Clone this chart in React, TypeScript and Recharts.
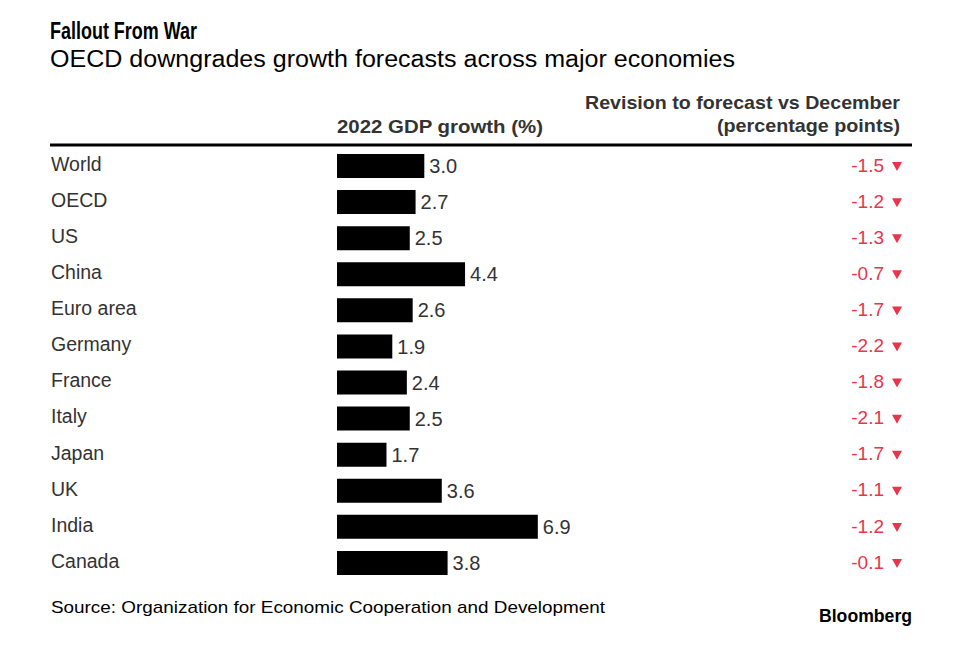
import React from 'react';
import { BarChart, Bar, XAxis, YAxis, LabelList } from 'recharts';

const categories = ['World', 'OECD', 'US', 'China', 'Euro area', 'Germany', 'France', 'Italy', 'Japan', 'UK', 'India', 'Canada'];
const growth2022 = [3.0, 2.7, 2.5, 4.4, 2.6, 1.9, 2.4, 2.5, 1.7, 3.6, 6.9, 3.8];
const revision = [-1.5, -1.2, -1.3, -0.7, -1.7, -2.2, -1.8, -2.1, -1.7, -1.1, -1.2, -0.1];

const FONT = '"Liberation Sans", Arial, Helvetica, sans-serif';
const TEXT = '#333333';
const RED = '#e8354d';

const data = categories.map((name, i) => ({ name, growth: growth2022[i], rev: revision[i] }));

// labels on the left, left-aligned at the page edge of the table
const CategoryTick = (props: any) => {
  const { y, payload } = props;
  return (
    <text x={51} y={y - 2} dy="0.35em" fill={TEXT} fontSize={19.5} fontFamily={FONT} textAnchor="start">
      {payload.value}
    </text>
  );
};

// revision column: red value + down triangle
const RevisionTick = (props: any) => {
  const { x, y, index } = props;
  const v = revision[index];
  return (
    <g>
      <text x={x - 6} y={y - 1} dy="0.35em" fill={RED} fontSize={19} fontFamily={FONT} textAnchor="end">
        {v.toFixed(1)}
      </text>
      <path d={`M${x + 2},${y - 4} L${x + 12},${y - 4} L${x + 7},${y + 5} Z`} fill={RED} />
    </g>
  );
};

const App: React.FC = () => {
  return (
    <div style={{ position: 'absolute', left: 0, top: 0, width: 961, height: 654, background: '#fff' }}>
      <BarChart
        width={961}
        height={654}
        data={data}
        layout="vertical"
        margin={{ top: 148, right: 21, bottom: 73, left: 51 }}
        barSize={24}
        style={{ fontFamily: FONT }}
      >
        <XAxis type="number" domain={[0, 19]} hide />
        <YAxis
          yAxisId="cat"
          type="category"
          dataKey="name"
          width={286}
          axisLine={false}
          tickLine={false}
          tick={<CategoryTick />}
          interval={0}
        />
        <YAxis
          yAxisId="rev"
          type="category"
          dataKey="name"
          orientation="right"
          width={50}
          axisLine={false}
          tickLine={false}
          tickSize={0}
          tickMargin={0}
          tick={<RevisionTick />}
          interval={0}
        />
        <Bar dataKey="growth" yAxisId="cat" fill="#000" isAnimationActive={false}>
          <LabelList
            dataKey="growth"
            position="right"
            offset={5}
            fill={TEXT}
            fontSize={20}
            fontFamily={FONT}
            formatter={(v: any) => Number(v).toFixed(1)}
          />
        </Bar>
      </BarChart>

      <svg width={961} height={654} style={{ position: 'absolute', left: 0, top: 0, pointerEvents: 'none' }}>
        <text x={50} y={39} fontSize={24} fontWeight="bold" fill="#000" fontFamily={FONT} textLength={147} lengthAdjust="spacingAndGlyphs">
          Fallout From War
        </text>
        <text x={50} y={67} fontSize={23} fill="#000" fontFamily={FONT} textLength={685} lengthAdjust="spacingAndGlyphs">
          OECD downgrades growth forecasts across major economies
        </text>
        <text x={337} y={133} fontSize={18} fontWeight="bold" fill={TEXT} fontFamily={FONT} textLength={206} lengthAdjust="spacingAndGlyphs">
          2022 GDP growth (%)
        </text>
        <text x={585} y={109} fontSize={18.5} fontWeight="bold" fill={TEXT} fontFamily={FONT} textLength={315} lengthAdjust="spacingAndGlyphs">
          Revision to forecast vs December
        </text>
        <text x={717} y={132} fontSize={18.5} fontWeight="bold" fill={TEXT} fontFamily={FONT} textLength={183} lengthAdjust="spacingAndGlyphs">
          (percentage points)
        </text>
        <line x1={50} x2={912} y1={145} y2={145} stroke="#000" strokeWidth={3} />
        <text x={51} y={613} fontSize={17} fill="#000" fontFamily={FONT} textLength={554} lengthAdjust="spacingAndGlyphs">
          Source: Organization for Economic Cooperation and Development
        </text>
        <text x={819} y={622} fontSize={19} fontWeight="bold" fill="#000" fontFamily={FONT} textLength={93} lengthAdjust="spacingAndGlyphs">
          Bloomberg
        </text>
      </svg>
    </div>
  );
};

export default App;
